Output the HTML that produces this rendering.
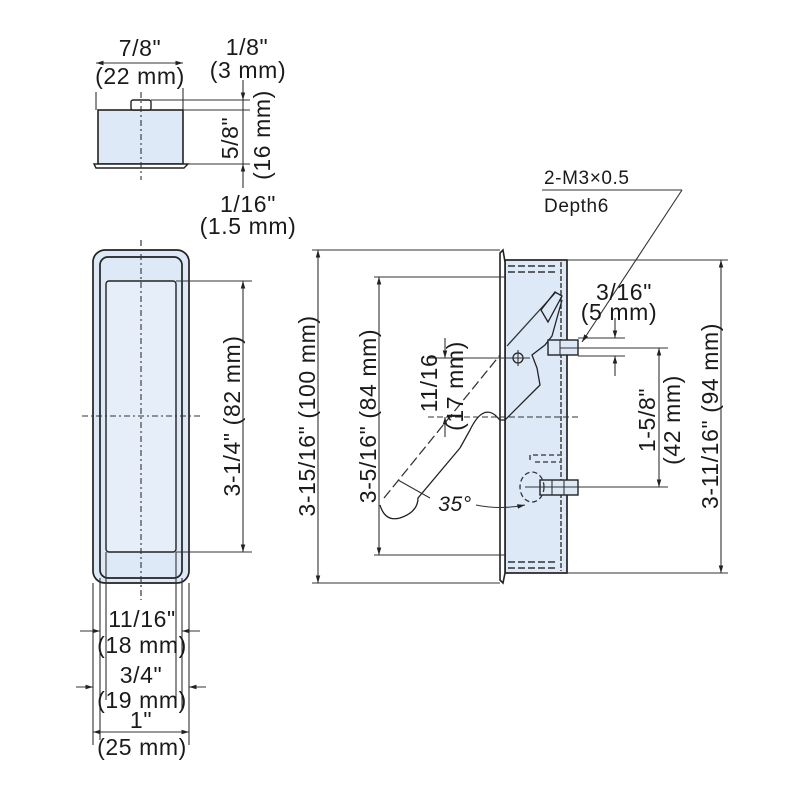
<!DOCTYPE html>
<html><head><meta charset="utf-8"><style>
html,body{margin:0;padding:0;background:#fff}
svg{display:block}
text{font-family:"Liberation Sans",sans-serif;fill:#1a1a1a;letter-spacing:0.6px}
</style></head><body>
<svg width="800" height="800" viewBox="0 0 800 800" xmlns="http://www.w3.org/2000/svg">
<defs>
<marker id="a" viewBox="0 0 10 10" refX="10" refY="5" markerWidth="7" markerHeight="7" orient="auto-start-reverse"><path d="M0,2 L10,5 L0,8z" fill="#222"/></marker>
</defs>
<g stroke="#333" fill="none" stroke-width="1.1">
<!-- TOP VIEW -->
<rect x="98" y="110" width="85" height="54" fill="#dde9f7" stroke="#222" stroke-width="1.6"/>
<rect x="131" y="100" width="20" height="10" rx="2" fill="#fff" stroke="#222" stroke-width="1.4"/>
<path d="M94,164 L188,164 L184,168 L96,168z" fill="#fff" stroke="#222" stroke-width="1.4"/>
<line x1="141" y1="92" x2="141" y2="180" stroke-dasharray="6,3,2,3"/>
<line x1="96" y1="92" x2="96" y2="110"/><line x1="183" y1="88" x2="183" y2="110"/>
<line x1="96" y1="63" x2="183" y2="63" marker-start="url(#a)" marker-end="url(#a)"/>
<line x1="151" y1="100" x2="250" y2="100"/><line x1="183" y1="110" x2="250" y2="110"/>
<line x1="188" y1="164" x2="250" y2="164"/>
<line x1="243" y1="80" x2="243" y2="100" marker-end="url(#a)"/>
<line x1="243" y1="100" x2="243" y2="164"/>
<line x1="243" y1="188" x2="243" y2="164" marker-end="url(#a)"/>
<!-- FRONT VIEW -->
<line x1="141" y1="240" x2="141" y2="600" stroke-dasharray="6,3,2,3"/>
<rect x="93" y="250" width="96" height="333" rx="12" fill="#dde9f7" stroke="#222" stroke-width="1.7"/>
<rect x="100" y="257" width="82" height="321" rx="8" stroke="#222" stroke-width="1.7"/>
<rect x="106" y="281" width="70" height="271" rx="3" fill="#e6eff9" stroke="#222" stroke-width="1.4"/>
<line x1="141" y1="240" x2="141" y2="600" stroke-dasharray="6,3,2,3"/>
<line x1="82" y1="416" x2="200" y2="416" stroke-dasharray="6,3,2,3"/>
<line x1="176" y1="281" x2="252" y2="281"/><line x1="176" y1="552" x2="252" y2="552"/>
<line x1="243" y1="281" x2="243" y2="552" marker-start="url(#a)" marker-end="url(#a)"/>
<line x1="100" y1="578" x2="100" y2="740"/><line x1="182" y1="578" x2="182" y2="710"/>
<line x1="93" y1="583" x2="93" y2="745"/><line x1="189" y1="583" x2="189" y2="745"/>
<line x1="106" y1="552" x2="106" y2="700"/><line x1="176" y1="552" x2="176" y2="700"/>
<line x1="80" y1="631" x2="100" y2="631" marker-end="url(#a)"/><line x1="200" y1="631" x2="182" y2="631" marker-end="url(#a)"/>
<line x1="76" y1="687" x2="93" y2="687" marker-end="url(#a)"/><line x1="206" y1="687" x2="189" y2="687" marker-end="url(#a)"/>
<line x1="93" y1="732" x2="189" y2="732" marker-start="url(#a)" marker-end="url(#a)"/>
<!-- SIDE VIEW -->
<rect x="505" y="260" width="62" height="313" fill="#dde9f7" stroke="#222" stroke-width="1.7"/>
<path d="M500,253 L503,250 L505,262 L505,573 L503,583 L500,580z" fill="#fff" stroke="#222" stroke-width="1.6"/>
<line x1="561" y1="262" x2="561" y2="571" stroke-dasharray="5,2" stroke-width="1.4"/>
<g stroke-width="1.6" stroke-dasharray="7,3">
<line x1="508" y1="266" x2="556" y2="266"/><line x1="508" y1="272" x2="556" y2="272"/>
<line x1="508" y1="562" x2="556" y2="562"/><line x1="508" y1="568" x2="556" y2="568"/>
</g>
<!-- dims -->
<line x1="312" y1="250" x2="500" y2="250"/><line x1="312" y1="583" x2="500" y2="583"/>
<line x1="318" y1="250" x2="318" y2="583" marker-start="url(#a)" marker-end="url(#a)"/>
<line x1="374" y1="277" x2="505" y2="277"/><line x1="374" y1="555" x2="505" y2="555"/>
<line x1="379" y1="277" x2="379" y2="555" marker-start="url(#a)" marker-end="url(#a)"/>
<line x1="567" y1="260" x2="728" y2="260"/><line x1="567" y1="573" x2="728" y2="573"/>
<line x1="721" y1="260" x2="721" y2="573" marker-start="url(#a)" marker-end="url(#a)"/>
<!-- lever -->
<path d="M380,505 Q385,522 400,518 Q418,512 418,498 L460,448" stroke="#222" stroke-width="1.3"/>
<line x1="384" y1="498" x2="500" y2="355" stroke-dasharray="10,4" stroke-width="1.3"/>
<line x1="507" y1="346" x2="556" y2="292" stroke-width="1.3"/>
<path d="M460,448 L470,430 Q482,405 495,415 L500,420 L505,420 L540,385 L537,368 L532,355 L545,345 L552,336 L557,318 L562,300" stroke="#222" stroke-width="1.3"/>
<path d="M541,310 L555,292 L562,296 L548,322z" stroke="#222" stroke-width="1.3"/>
<circle cx="518" cy="358" r="5" stroke="#222" stroke-width="1.3"/>
<line x1="518" y1="350" x2="518" y2="366"/>
<line x1="428" y1="358" x2="530" y2="358"/>
<line x1="428" y1="417" x2="580" y2="417" stroke-dasharray="6,3"/>
<line x1="445" y1="338" x2="445" y2="358" marker-end="url(#a)"/>
<line x1="445" y1="437" x2="445" y2="417" marker-end="url(#a)"/>
<!-- screws -->
<rect x="548" y="340" width="30" height="15" fill="#dde9f7" stroke="#222" stroke-width="1.4"/>
<line x1="560" y1="340" x2="560" y2="355"/>
<rect x="540" y="480" width="38" height="15" fill="#dde9f7" stroke="#222" stroke-width="1.4"/>
<line x1="552" y1="480" x2="552" y2="495"/><line x1="564" y1="480" x2="564" y2="495"/>
<ellipse cx="532" cy="487" rx="12" ry="15" stroke-dasharray="5,3" stroke-width="1.3"/>
<path d="M530,460 L530,455 L560,455 M535,462 L560,462" stroke-dasharray="5,3" stroke-width="1.3"/>
<line x1="525" y1="487" x2="668" y2="487"/>
<line x1="560" y1="348" x2="668" y2="348"/>
<line x1="659" y1="348" x2="659" y2="487" marker-start="url(#a)" marker-end="url(#a)"/>
<line x1="578" y1="338" x2="625" y2="338"/><line x1="578" y1="356" x2="625" y2="356"/>
<line x1="615" y1="318" x2="615" y2="338" marker-end="url(#a)"/>
<line x1="615" y1="376" x2="615" y2="356" marker-end="url(#a)"/>
<!-- 35 deg -->
<path d="M398,480 L430,498"/>
<path d="M476,505 Q500,510 525,505" marker-end="url(#a)"/>
<!-- leader -->
<line x1="542" y1="190" x2="682" y2="190"/>
<line x1="682" y1="190" x2="582" y2="342" marker-end="url(#a)"/>
</g>
<g font-size="23">
<text x="140" y="56" text-anchor="middle">7/8"</text>
<text x="140" y="84" text-anchor="middle">(22 mm)</text>
<text x="247" y="55" text-anchor="middle">1/8"</text>
<text x="248" y="78" text-anchor="middle">(3 mm)</text>
<text transform="translate(238,138) rotate(-90)" text-anchor="middle">5/8"</text>
<text transform="translate(270,135) rotate(-90)" text-anchor="middle">(16 mm)</text>
<text x="248" y="212" text-anchor="middle">1/16"</text>
<text x="248" y="234" text-anchor="middle">(1.5 mm)</text>
<text transform="translate(240,416) rotate(-90)" text-anchor="middle">3-1/4" (82 mm)</text>
<text x="142" y="627" text-anchor="middle">11/16"</text>
<text x="142" y="653" text-anchor="middle">(18 mm)</text>
<text x="141" y="683" text-anchor="middle">3/4"</text>
<text x="142" y="708" text-anchor="middle">(19 mm)</text>
<text x="141" y="728" text-anchor="middle">1"</text>
<text x="142" y="755" text-anchor="middle">(25 mm)</text>
<text transform="translate(315,416) rotate(-90)" text-anchor="middle">3-15/16" (100 mm)</text>
<text transform="translate(376,416) rotate(-90)" text-anchor="middle">3-5/16" (84 mm)</text>
<text transform="translate(437,383) rotate(-90)" text-anchor="middle">11/16</text>
<text transform="translate(463,386) rotate(-90)" text-anchor="middle">(17 mm)</text>
<text transform="translate(718,416) rotate(-90)" text-anchor="middle">3-11/16" (94 mm)</text>
<text transform="translate(655,420) rotate(-90)" text-anchor="middle">1-5/8"</text>
<text transform="translate(680,420) rotate(-90)" text-anchor="middle">(42 mm)</text>
<text x="624" y="300" text-anchor="middle">3/16"</text>
<text x="619" y="320" text-anchor="middle">(5 mm)</text>
<text x="455" y="511" text-anchor="middle" font-style="italic" font-size="21">35°</text>
<text x="544" y="184" font-size="19">2-M3×0.5</text>
<text x="544" y="212" font-size="19">Depth6</text>
</g>
</svg>
</body></html>
